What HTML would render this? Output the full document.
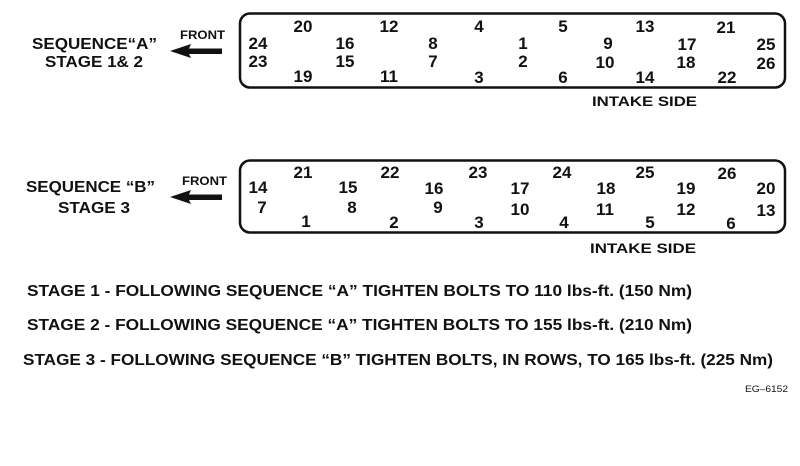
<!DOCTYPE html>
<html><head><meta charset="utf-8"><style>
html,body{margin:0;padding:0;background:#fff;width:800px;height:466px;overflow:hidden}
svg text{font-family:"Liberation Sans",Arial,sans-serif;font-weight:bold;fill:#111}
</style></head><body>
<svg width="800" height="466" viewBox="0 0 800 466" xmlns="http://www.w3.org/2000/svg">
<rect x="240" y="13.5" width="545" height="74" rx="10" fill="none" stroke="#111" stroke-width="2.5"/>
<rect x="240" y="160.5" width="545" height="72" rx="10" fill="none" stroke="#111" stroke-width="2.5"/>

<text x="32" y="49" font-size="16" textLength="125" lengthAdjust="spacingAndGlyphs">SEQUENCE“A”</text>
<text x="45" y="67" font-size="16" textLength="98" lengthAdjust="spacingAndGlyphs">STAGE 1&amp; 2</text>
<text x="26" y="192" font-size="16" textLength="129" lengthAdjust="spacingAndGlyphs">SEQUENCE “B”</text>
<text x="58" y="213" font-size="16" textLength="72" lengthAdjust="spacingAndGlyphs">STAGE 3</text>

<text x="180" y="39" font-size="12" textLength="45" lengthAdjust="spacingAndGlyphs">FRONT</text>
<text x="182" y="185" font-size="12" textLength="45" lengthAdjust="spacingAndGlyphs">FRONT</text>
<polygon points="170,51 191,44 189,48.5 222,48.5 222,54 189,54 191,58" fill="#111"/>
<polygon points="170,197 191,190 189,194.5 222,194.5 222,200 189,200 191,204" fill="#111"/>

<g font-size="17" text-anchor="middle">
<text x="303" y="32">20</text><text x="389" y="32">12</text><text x="479" y="32">4</text><text x="563" y="32">5</text><text x="645" y="32">13</text><text x="726" y="33">21</text>
<text x="258" y="49">24</text><text x="345" y="49">16</text><text x="433" y="49">8</text><text x="523" y="49">1</text><text x="608" y="49">9</text><text x="687" y="50">17</text><text x="766" y="50">25</text>
<text x="258" y="67">23</text><text x="345" y="67">15</text><text x="433" y="67">7</text><text x="523" y="67">2</text><text x="605" y="68">10</text><text x="686" y="68">18</text><text x="766" y="69">26</text>
<text x="303" y="82">19</text><text x="389" y="82">11</text><text x="479" y="83">3</text><text x="563" y="83">6</text><text x="645" y="83">14</text><text x="727" y="83">22</text>

<text x="303" y="178">21</text><text x="390" y="178">22</text><text x="478" y="178">23</text><text x="562" y="178">24</text><text x="645" y="178">25</text><text x="727" y="179">26</text>
<text x="258" y="193">14</text><text x="348" y="193">15</text><text x="434" y="194">16</text><text x="520" y="194">17</text><text x="606" y="194">18</text><text x="686" y="194">19</text><text x="766" y="194">20</text>
<text x="262" y="213">7</text><text x="352" y="213">8</text><text x="438" y="213">9</text><text x="520" y="215">10</text><text x="605" y="215">11</text><text x="686" y="215">12</text><text x="766" y="216">13</text>
<text x="306" y="227">1</text><text x="394" y="228">2</text><text x="479" y="228">3</text><text x="564" y="228">4</text><text x="650" y="228">5</text><text x="731" y="229">6</text>
</g>

<text x="592" y="106" font-size="14" textLength="105" lengthAdjust="spacingAndGlyphs">INTAKE SIDE</text>
<text x="590" y="253" font-size="14" textLength="106" lengthAdjust="spacingAndGlyphs">INTAKE SIDE</text>

<text x="27" y="296" font-size="16" textLength="665" lengthAdjust="spacingAndGlyphs">STAGE 1 - FOLLOWING SEQUENCE “A” TIGHTEN  BOLTS TO 110 lbs-ft. (150 Nm)</text>
<text x="27" y="330" font-size="16" textLength="665" lengthAdjust="spacingAndGlyphs">STAGE 2 - FOLLOWING SEQUENCE “A” TIGHTEN BOLTS TO  155 lbs-ft. (210 Nm)</text>
<text x="23" y="365" font-size="16" textLength="750" lengthAdjust="spacingAndGlyphs">STAGE 3 - FOLLOWING SEQUENCE “B” TIGHTEN BOLTS, IN ROWS, TO 165 lbs-ft. (225 Nm)</text>
<text x="745" y="392" font-size="9" style="font-weight:normal" textLength="43" lengthAdjust="spacingAndGlyphs">EG–6152</text>
</svg>
</body></html>
